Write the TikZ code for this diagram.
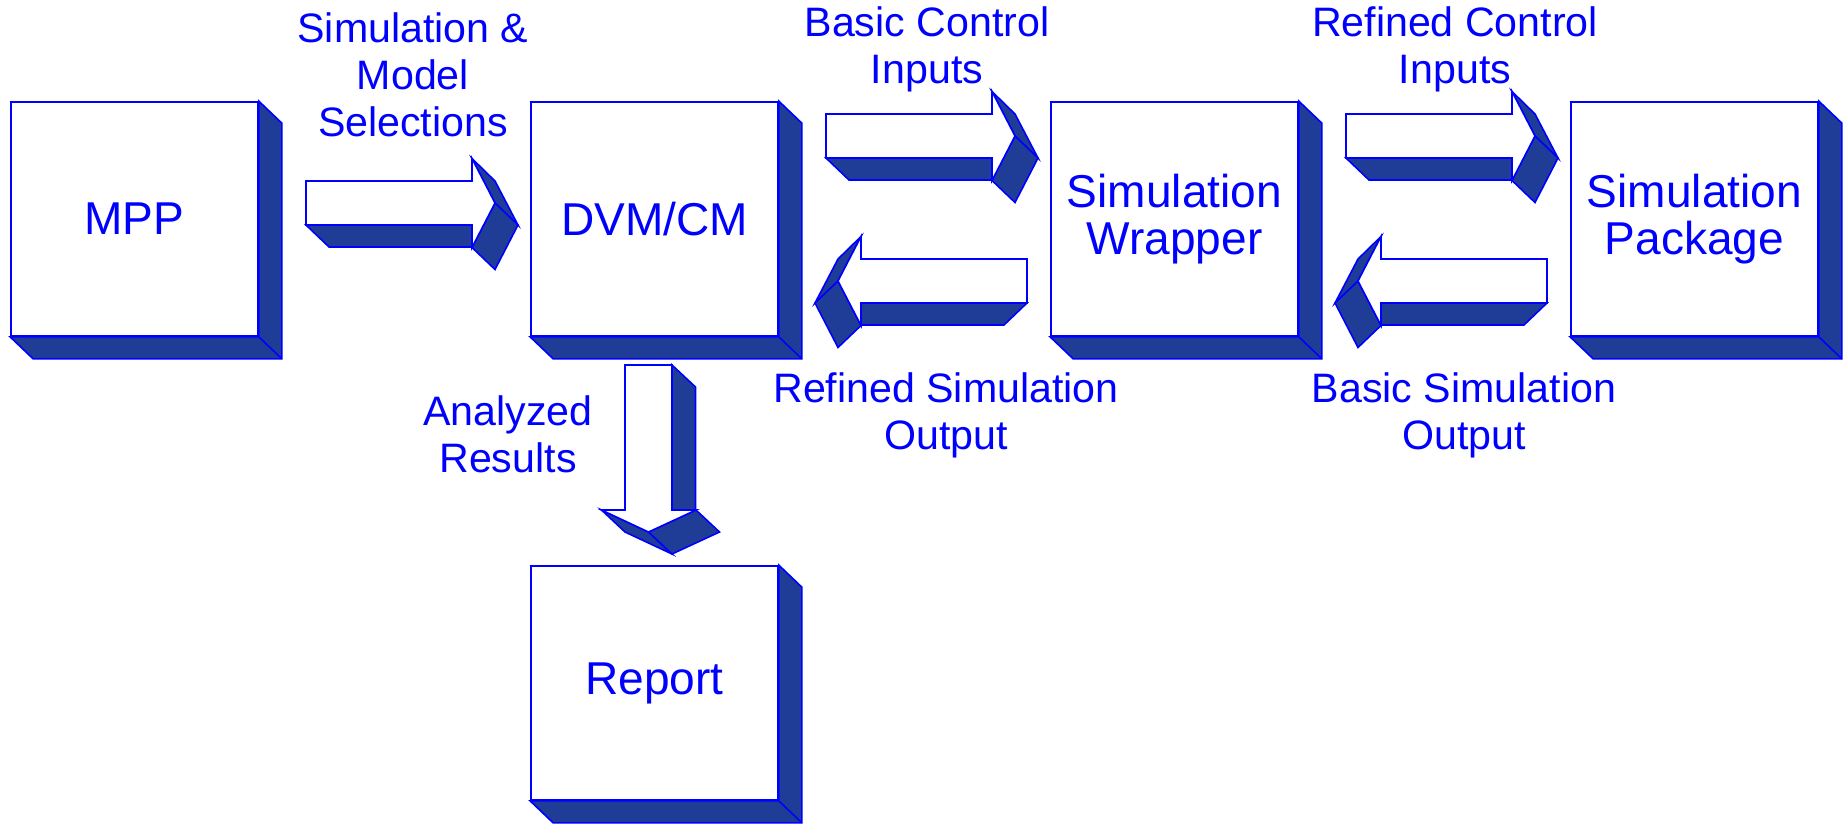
\documentclass[tikz,border=0pt]{standalone}
\usepackage{fontspec}
\setmainfont{Liberation Sans}
\usepackage{tikz}
\usetikzlibrary{positioning}
\usepackage{xcolor}

\definecolor{sidefill}{RGB}{31,61,150}

% 3D block arrow pointing right, origin at top left of the shaft
\newcommand{\flatarrow}{%
	\filldraw [side] (0,44) -- (166,44) -- (189,66) -- (23,66) -- cycle;
	\filldraw [side] (166,-22.5) -- (189,22) -- (212,44) -- (189,0) -- cycle;
	\filldraw [side] (189,22) -- (166,66.5) -- (189,88.5) -- (212,44) -- cycle;
	\filldraw [front] (0,0) -- (166,0) -- (166,-22.5) -- (189,22) -- (166,66.5) -- (166,44) -- (0,44) -- cycle;
}

% depth faces of a box node
\newcommand{\boxdepth}[1]{%
	\filldraw [side] (#1.north east) -- ++(23,22) -- ([shift={(23,22)}]#1.south east) -- ([shift={(23,22)}]#1.south west) -- (#1.south west) -- (#1.south east) -- cycle;
	\draw [edge] (#1.south east) -- ++(23,22);
}

\begin{document}
\begin{tikzpicture} [x=0.01cm, y=-0.01cm,
		edge/.style={draw=blue, line width=0.45pt},
		side/.style={edge, fill=sidefill},
		front/.style={edge, fill=white},
		blk/.style={front, minimum width=2.47cm, minimum height=2.34cm, inner sep=0pt, align=center, text=blue, font=\fontsize{13.1}{13.3}\selectfont},
		lbl/.style={text=blue, align=center, inner sep=0pt, anchor=north, font=\fontsize{11.7}{13.4}\selectfont}]

						\useasboundingbox (0,0) rectangle (1844,823);

						\node [blk] (mpp) at (134.5, 219) {MPP};
						\boxdepth{mpp}

						\node [blk] (dvm) at (654.5, 219) {DVM/CM};
						\boxdepth{dvm}

						\node [blk] (wrap) at (1174.5, 219) {Simulation\\Wrapper};
						\boxdepth{wrap}

						\node [blk] (pkg) at (1694.5, 219) {Simulation\\Package};
						\boxdepth{pkg}

						\node [blk] (rep) at (654.5, 683) {Report};
						\boxdepth{rep}

						\begin{scope} [shift={(306,181)}] \flatarrow \end{scope}
						\begin{scope} [shift={(826,114)}] \flatarrow \end{scope}
						\begin{scope} [shift={(1346,114)}] \flatarrow \end{scope}
						\begin{scope} [shift={(1027,259)}, xscale=-1] \flatarrow \end{scope}
						\begin{scope} [shift={(1547,259)}, xscale=-1] \flatarrow \end{scope}

						\begin{scope} [shift={(625,365)}]
							\filldraw [side] (47,0) -- (70.5,22) -- (70.5,167) -- (47,145) -- cycle;
							\filldraw [side] (-23.5,145) -- (23.5,167) -- (47,189) -- (0,167) -- cycle;
							\filldraw [side] (23.5,167) -- (71,145) -- (94.5,167) -- (47,189) -- cycle;
							\filldraw [front] (0,0) -- (47,0) -- (47,145) -- (71,145) -- (23.5,167) -- (-23.5,145) -- (0,145) -- cycle;
						\end{scope}

						\node [lbl] (sel) at (413, 12) {Simulation \&\\Model\\Selections};
						\node [lbl] (bci) at (927, 6) {Basic Control\\Inputs};
						\node [lbl] (rci) at (1455, 6) {Refined Control\\Inputs};
						\node [lbl] (ana) at (508, 395) {Analyzed\\Results};
						\node [lbl] (rso) at (946, 372) {Refined Simulation\\Output};
						\node [lbl] (bso) at (1464, 372) {Basic Simulation\\Output};

					\end{tikzpicture}
\end{document}
